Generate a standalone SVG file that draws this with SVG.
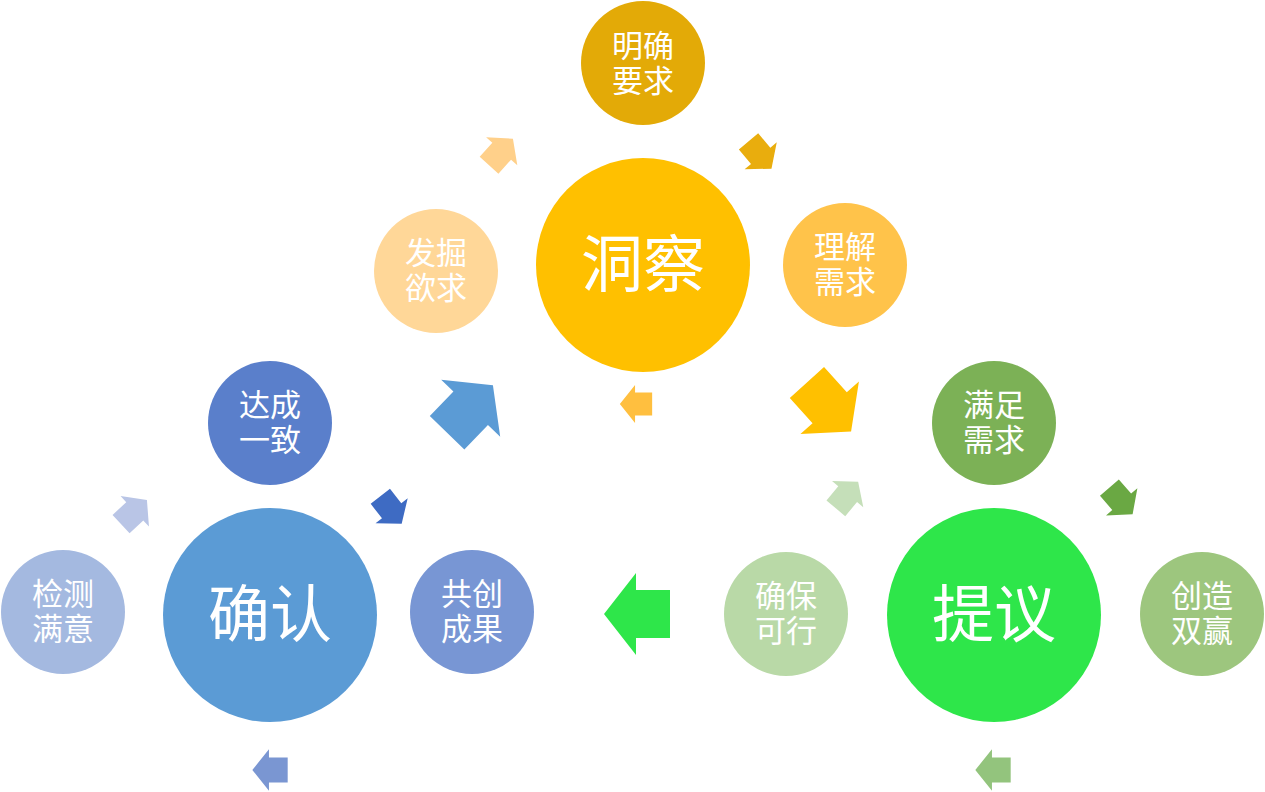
<svg xmlns="http://www.w3.org/2000/svg" xmlns:xlink="http://www.w3.org/1999/xlink" width="1265" height="792" viewBox="0 0 1265 792">
<style>
.t{font-family:"Noto Sans CJK SC","Noto Sans CJK TC",sans-serif;fill:#fff;text-anchor:middle;font-size:31px}
.b{font-family:"Noto Sans CJK SC","Noto Sans CJK TC",sans-serif;fill:#fff;text-anchor:middle;font-size:62px}
</style>
<defs>
<path id="big" d="M-33,0 L-1,-41 L-1,-24 L33,-24 L33,24 L-1,24 L-1,41 Z"/>
<path id="sm" d="M-17,0 L-1,-20 L-1,-12 L17,-12 L17,12 L-1,12 L-1,20 Z"/>
</defs>
<rect width="1265" height="792" fill="#fff"/>
<g id="connectors">
<use href="#big" transform="translate(637,614)" fill="#2EE64A"/>
<use href="#big" transform="translate(470,409) rotate(134)" fill="#5B9BD5"/>
<use href="#big" transform="translate(829,407) rotate(-132) scale(1,0.96)" fill="#FFC000"/>
<use href="#sm" transform="translate(636,404) scale(0.95)" fill="#FFBF3F"/>
<use href="#sm" transform="translate(270,770) scale(1.04)" fill="#7A96D2"/>
<use href="#sm" transform="translate(993,770) scale(1.04)" fill="#93C47D"/>
<use href="#sm" transform="translate(501,152) rotate(132) scale(1.05)" fill="#FFD08A"/>
<use href="#sm" transform="translate(760,155) rotate(-130) scale(1.05)" fill="#E9AD0D"/>
<use href="#sm" transform="translate(847,495) rotate(130) scale(1.02)" fill="#C5DFB9"/>
<use href="#sm" transform="translate(1121,501) rotate(-131) scale(1.04)" fill="#6AA843"/>
<use href="#sm" transform="translate(391,510) rotate(-128) scale(1.02)" fill="#3E6BC3"/>
<use href="#sm" transform="translate(134,512) rotate(137) scale(1.04)" fill="#B9C5E6"/>
</g>
<g id="n-mingque"><circle cx="643" cy="63" r="62" fill="#E3AA07"/><text class="t" x="643" y="57">明确<tspan x="643" dy="35">要求</tspan></text></g>
<g id="n-dongcha"><circle cx="643" cy="265" r="107" fill="#FFC000"/><text class="b" x="643" y="287">洞察</text></g>
<g id="n-fajue"><circle cx="436" cy="271" r="62" fill="#FFD798"/><text class="t" x="436" y="264">发掘<tspan x="436" dy="35">欲求</tspan></text></g>
<g id="n-lijie"><circle cx="845" cy="265" r="62" fill="#FFC34A"/><text class="t" x="845" y="258">理解<tspan x="845" dy="35">需求</tspan></text></g>
<g id="n-manzu"><circle cx="994" cy="423" r="62" fill="#7CB156"/><text class="t" x="994" y="416">满足<tspan x="994" dy="35">需求</tspan></text></g>
<g id="n-tiyi"><circle cx="994" cy="615" r="107" fill="#2EE64A"/><text class="b" x="994" y="637">提议</text></g>
<g id="n-quebao"><circle cx="786" cy="614" r="62" fill="#B9D9A7"/><text class="t" x="786" y="607">确保<tspan x="786" dy="35">可行</tspan></text></g>
<g id="n-chuangzao"><circle cx="1202" cy="614" r="62" fill="#9DC67E"/><text class="t" x="1202" y="607">创造<tspan x="1202" dy="35">双赢</tspan></text></g>
<g id="n-dacheng"><circle cx="270" cy="423" r="62" fill="#5A7FCB"/><text class="t" x="270" y="416">达成<tspan x="270" dy="35">一致</tspan></text></g>
<g id="n-queren"><circle cx="270" cy="615" r="107" fill="#5B9BD5"/><text class="b" x="270" y="637">确认</text></g>
<g id="n-jiance"><circle cx="63" cy="612" r="62" fill="#A4B9E0"/><text class="t" x="63" y="605">检测<tspan x="63" dy="35">满意</tspan></text></g>
<g id="n-gongchuang"><circle cx="472" cy="612" r="62" fill="#7896D4"/><text class="t" x="472" y="605">共创<tspan x="472" dy="35">成果</tspan></text></g>
</svg>
